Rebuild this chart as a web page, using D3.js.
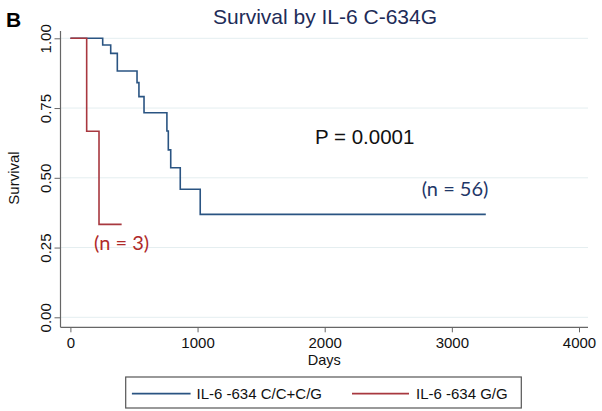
<!DOCTYPE html>
<html>
<head>
<meta charset="utf-8">
<script src="https://cdn.jsdelivr.net/npm/d3@7"></script>
<style>
html,body{margin:0;padding:0;background:#fff;}
svg{display:block;font-family:"Liberation Sans",Arial,sans-serif;}
</style>
</head>
<body>
<svg id="chart" width="602" height="411"></svg>
<script>
// Data
const blueTimes = [0, 254, 317, 369, 524, 539, 579, 759, 770, 789, 864, 1021, 3267];
const blueSurv  = [1, 0.976, 0.946, 0.883, 0.841, 0.791, 0.733, 0.668, 0.600, 0.536, 0.459, 0.369, 0.369];
const redTimes  = [0, 128, 225, 403];
const redSurv   = [1, 0.667, 0.333, 0.333];
const xTicks = [0, 1000, 2000, 3000, 4000];
const yTicks = [0, 0.25, 0.5, 0.75, 1];
const seriesNames = ["IL-6 -634 C/C+C/G", "IL-6 -634 G/G"];
const nLabels = ["(n = 56)", "(n = 3)"];
const pText = "P = 0.0001";

const blueColor = "#2a5482", redColor = "#a8383f";
const svg = d3.select("#chart");

const x = d3.scaleLinear().domain([0, 4000]).range([70.4, 579]);
const y = d3.scaleLinear().domain([0, 1]).range([317.3, 38.3]);
const axisX = 60.5, axisY = 327.3, plotRight = 588, plotTop = 31;

// gridlines
svg.append("g").selectAll("line").data(yTicks).join("line")
  .attr("x1", axisX).attr("x2", plotRight)
  .attr("y1", d => y(d)).attr("y2", d => y(d))
  .attr("stroke", "#e4eef0").attr("stroke-width", 1);

// axes lines
svg.append("line").attr("x1", axisX).attr("x2", axisX).attr("y1", plotTop).attr("y2", axisY)
  .attr("stroke", "#666").attr("stroke-width", 1.2);
svg.append("line").attr("x1", axisX).attr("x2", plotRight).attr("y1", axisY).attr("y2", axisY)
  .attr("stroke", "#666").attr("stroke-width", 1.2);

// y axis
const gy = svg.append("g").attr("transform", `translate(${axisX},0)`)
  .call(d3.axisLeft(y).tickValues(yTicks).tickFormat(d3.format(".2f")).tickSize(6).tickSizeOuter(0));
gy.select(".domain").remove();
gy.selectAll(".tick line").attr("stroke", "#666");
gy.selectAll(".tick text")
  .attr("x", null).attr("dy", null)
  .attr("transform", "translate(-10,0) rotate(-90)")
  .attr("text-anchor", "middle")
  .attr("font-size", 15).attr("fill", "#111")
  .style("font-family", '"Liberation Sans",Arial,sans-serif');

// x axis
const gx = svg.append("g").attr("transform", `translate(0,${axisY})`)
  .call(d3.axisBottom(x).tickValues(xTicks).tickFormat(d3.format("d")).tickSize(5).tickPadding(5).tickSizeOuter(0));
gx.select(".domain").remove();
gx.selectAll(".tick line").attr("stroke", "#666");
gx.selectAll(".tick text").attr("font-size", 15).attr("fill", "#111")
  .style("font-family", '"Liberation Sans",Arial,sans-serif');

// curves
const line = d3.line().x(d => x(d[0])).y(d => y(d[1])).curve(d3.curveStepAfter);
svg.append("path").datum(d3.zip(blueTimes, blueSurv)).attr("d", line)
  .attr("fill", "none").attr("stroke", blueColor).attr("stroke-width", 1.6);
svg.append("path").datum(d3.zip(redTimes, redSurv)).attr("d", line)
  .attr("fill", "none").attr("stroke", redColor).attr("stroke-width", 1.6);

// titles
svg.append("text").attr("x", 6).attr("y", 26.7).attr("font-size", 21).attr("font-weight", "bold")
  .attr("fill", "#000").text("B");
svg.append("text").attr("x", 325).attr("y", 23.8).attr("text-anchor", "middle")
  .attr("font-size", 21).attr("fill", "#1e2c58").text("Survival by IL-6 C-634G");
svg.append("text").attr("transform", "translate(19,178) rotate(-90)").attr("text-anchor", "middle")
  .attr("font-size", 15).attr("fill", "#111").text("Survival");
svg.append("text").attr("x", 324.3).attr("y", 364.5).attr("text-anchor", "middle")
  .attr("font-size", 14.5).attr("fill", "#111").text("Days");

// annotations
svg.append("text").attr("x", 315).attr("y", 144.3).attr("font-size", 20.5).attr("fill", "#111").text(pText);
svg.append("text").attr("x", 421.7).attr("y", 196).attr("font-size", 20)
  .style("font-family", "Lato,'Open Sans',sans-serif").attr("fill", "#1f3768").text(nLabels[0]);
svg.append("text").attr("x", 94).attr("y", 250).attr("font-size", 20)
  .style("font-family", "Lato,'Open Sans',sans-serif").attr("fill", "#b02a2a").text(nLabels[1]);

// legend
svg.append("rect").attr("x", 125.7).attr("y", 377).attr("width", 395.6).attr("height", 31)
  .attr("fill", "#fff").attr("stroke", "#555").attr("stroke-width", 1.2);
const leg = [
  {x1: 131.9, x2: 190.6, tx: 196.5, c: blueColor, name: seriesNames[0]},
  {x1: 352, x2: 409, tx: 416, c: redColor, name: seriesNames[1]}
];
leg.forEach(l => {
  svg.append("line").attr("x1", l.x1).attr("x2", l.x2).attr("y1", 393.6).attr("y2", 393.6)
    .attr("stroke", l.c).attr("stroke-width", 1.6);
  svg.append("text").attr("x", l.tx).attr("y", 399).attr("font-size", 15).attr("fill", "#111").text(l.name);
});
</script>
</body>
</html>
